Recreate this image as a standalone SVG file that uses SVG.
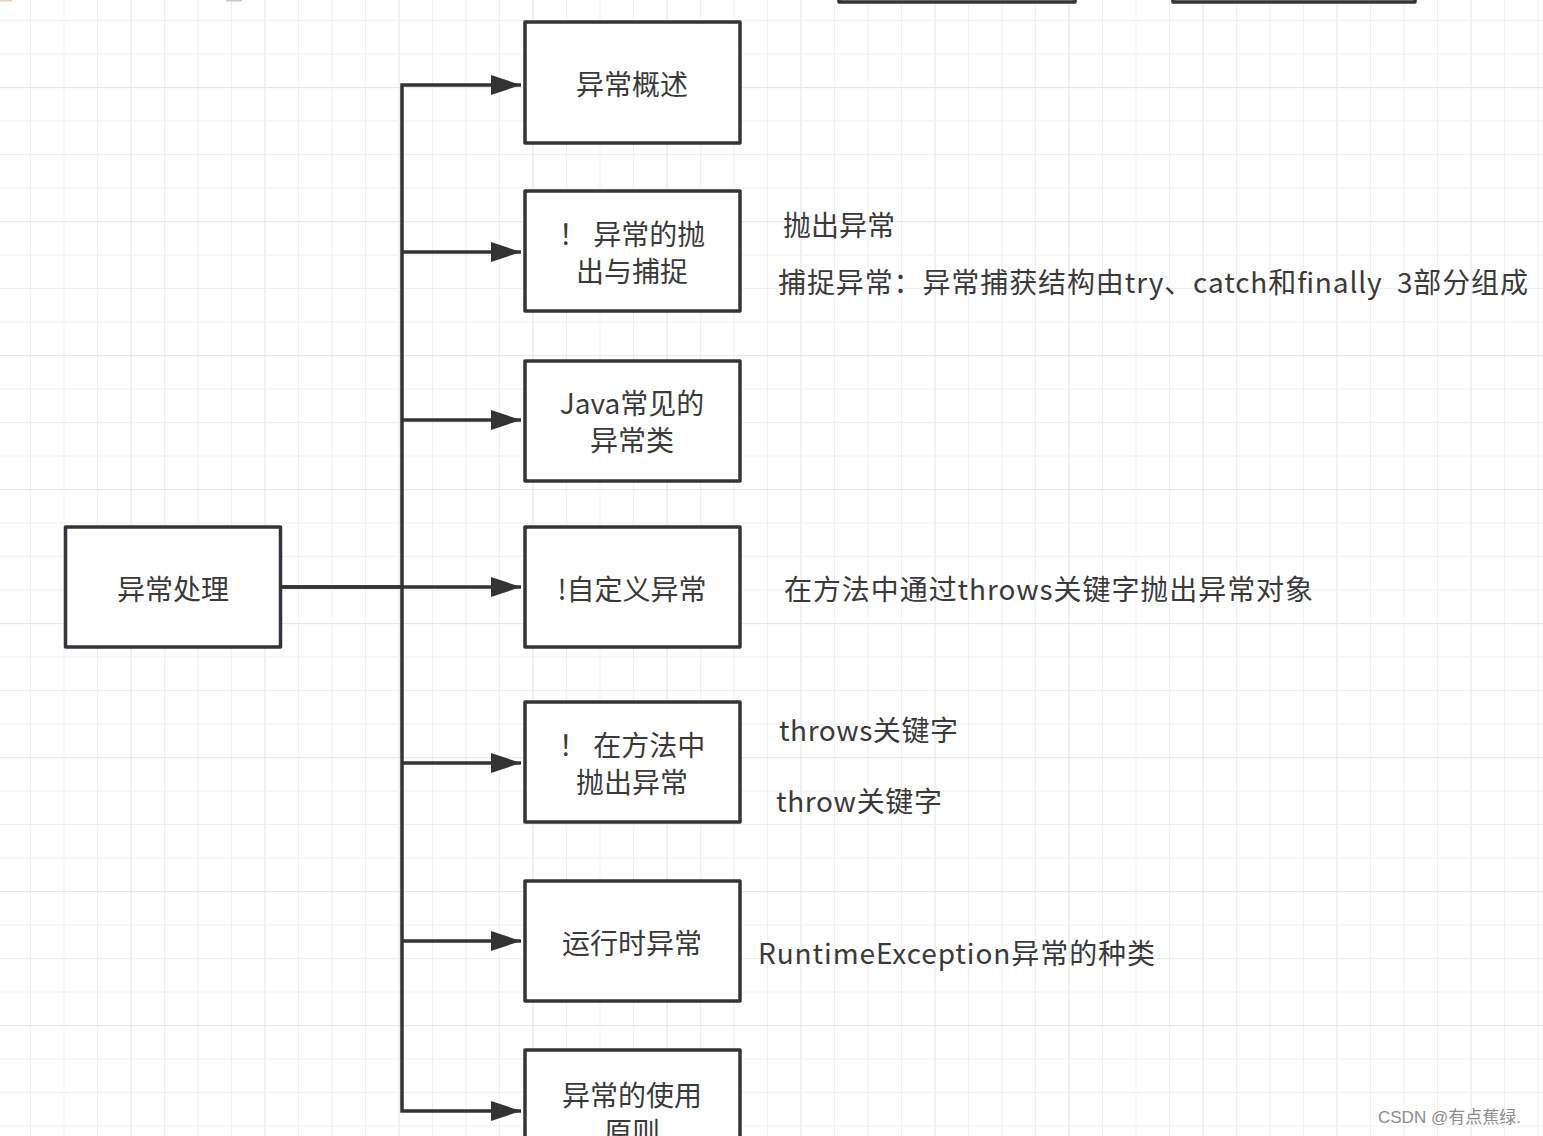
<svg xmlns="http://www.w3.org/2000/svg" width="1543" height="1136" viewBox="0 0 1543 1136">
<style>
.box{fill:#fff;stroke:#32353a;stroke-width:3.5;stroke-linejoin:round}
.t{font-family:"Microsoft YaHei","Noto Sans CJK SC","Noto Sans",sans-serif;font-size:28px;fill:#3a3a3a}
.c{text-anchor:middle;dominant-baseline:central}
.l{dominant-baseline:central}
.edge{fill:none;stroke:#333;stroke-width:3.5;stroke-linejoin:miter}
.wm{font-family:"Liberation Sans","Noto Sans CJK SC",sans-serif;font-size:17px;fill:#8c8c8c}
</style>
<defs>
<pattern id="grid" patternUnits="userSpaceOnUse" x="30" y="20" width="134" height="134">
<rect x="0" y="0" width="1" height="134" fill="#f0f0f0"/>
<rect x="33.5" y="0" width="1" height="134" fill="#f0f0f0"/>
<rect x="67" y="0" width="1" height="134" fill="#f0f0f0"/>
<rect x="100.5" y="0" width="1.2" height="134" fill="#e8e8e8"/>
<rect x="0" y="0" width="134" height="1" fill="#f0f0f0"/>
<rect x="0" y="33.5" width="134" height="1" fill="#f0f0f0"/>
<rect x="0" y="67" width="134" height="1.2" fill="#e8e8e8"/>
<rect x="0" y="100.5" width="134" height="1" fill="#f0f0f0"/>
</pattern>
<marker id="arr" markerUnits="userSpaceOnUse" markerWidth="31" markerHeight="21" refX="30" refY="10" orient="auto">
<path d="M0,0 L30,10 L0,20 z" fill="#333"/>
</marker>
</defs>
<rect width="1543" height="1136" fill="#fff"/>
<rect width="1543" height="1136" fill="url(#grid)"/>
<!-- cut-off fragments at top -->
<rect x="0" y="0" width="12" height="1.5" fill="#f4c9c0"/>
<rect x="226" y="0" width="16" height="1.5" fill="#c8c8c8"/>
<rect x="839" y="-120" width="236" height="122" class="box"/>
<rect x="1173" y="-120" width="242" height="122" class="box"/>

<g id="connectors">
<path class="edge" d="M281 587 H402 V85 H521" marker-end="url(#arr)"/>
<path class="edge" d="M402 252 H521" marker-end="url(#arr)"/>
<path class="edge" d="M402 420 H521" marker-end="url(#arr)"/>
<path class="edge" d="M281 587 H521" marker-end="url(#arr)"/>
<path class="edge" d="M402 587 V1111 H521" marker-end="url(#arr)"/>
<path class="edge" d="M402 763 H521" marker-end="url(#arr)"/>
<path class="edge" d="M402 941 H521" marker-end="url(#arr)"/>
</g>

<g id="root">
<rect class="box" x="65.5" y="527" width="215" height="120"/>
<text class="t c" x="173" y="588">异常处理</text>
</g>
<g id="n1">
<rect class="box" x="525" y="22" width="215" height="121"/>
<text class="t c" x="632" y="83">异常概述</text>
</g>
<g id="n2">
<rect class="box" x="525" y="191" width="215" height="120"/>
<text class="t c" x="632" y="233">！ 异常的抛</text>
<text class="t c" x="632" y="270">出与捕捉</text>
</g>
<g id="n3">
<rect class="box" x="525" y="361" width="215" height="120"/>
<text class="t c" x="632" y="402">Java常见的</text>
<text class="t c" x="632" y="439">异常类</text>
</g>
<g id="n4">
<rect class="box" x="525" y="527" width="215" height="120"/>
<text class="t c" x="632" y="588">!自定义异常</text>
</g>
<g id="n5">
<rect class="box" x="525" y="702" width="215" height="120"/>
<text class="t c" x="632" y="744">！ 在方法中</text>
<text class="t c" x="632" y="781">抛出异常</text>
</g>
<g id="n6">
<rect class="box" x="525" y="881" width="215" height="120"/>
<text class="t c" x="632" y="942">运行时异常</text>
</g>
<g id="n7">
<rect class="box" x="525" y="1050" width="215" height="121"/>
<text class="t c" x="632" y="1094">异常的使用</text>
<text class="t c" x="632" y="1131">原则</text>
</g>

<g id="notes">
<text class="t l" x="783" y="224">抛出异常</text>
<text class="t l" x="778" y="281" textLength="750" lengthAdjust="spacing">捕捉异常：异常捕获结构由try、catch和finally&#160;&#160;3部分组成</text>
<text class="t l" x="784" y="588" textLength="529" lengthAdjust="spacing">在方法中通过throws关键字抛出异常对象</text>
<text class="t l" x="779" y="729" textLength="179" lengthAdjust="spacing">throws关键字</text>
<text class="t l" x="776" y="800" textLength="166" lengthAdjust="spacing">throw关键字</text>
<text class="t l" x="758" y="952" textLength="397" lengthAdjust="spacing">RuntimeException异常的种类</text>
</g>
<text class="wm" x="1378" y="1123">CSDN @有点蕉绿.</text>
</svg>
